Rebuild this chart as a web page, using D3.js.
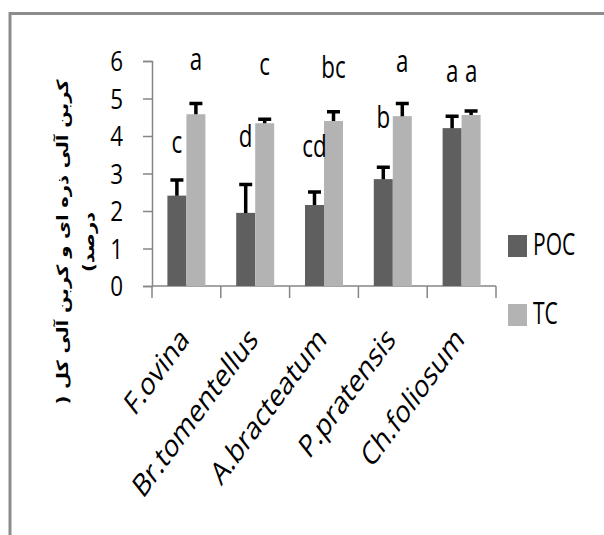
<!DOCTYPE html>
<html>
<head>
<meta charset="utf-8">
<script src="https://cdn.jsdelivr.net/npm/d3@7"></script>
<style>
    body { margin: 0; background: #fff; }
</style>
</head>
<body>
<div id="chart"></div>
<script>
// data
let species = ["F.ovina", "Br.tomentellus", "A.bracteatum", "P.pratensis", "Ch.foliosum"];
let series = ["POC", "TC"];
let poc = [2.41, 1.95, 2.16, 2.85, 4.21];
let pocErr = [0.42, 0.76, 0.35, 0.32, 0.32];
let tc = [4.58, 4.34, 4.40, 4.53, 4.56];
let tcErr = [0.29, 0.11, 0.25, 0.34, 0.11];
// significance letters and the height (in % units) where they sit
let pocLetters = ["c", "d", "cd", "b", "a"];
let pocLetterAt = [3.55, 3.71, 3.44, 4.21, 5.44];
let tcLetters = ["a", "c", "bc", "a", "a"];
let tcLetterAt = [5.76, 5.63, 5.55, 5.71, 5.44];
let yTicks = [0, 1, 2, 3, 4, 5, 6];
let yTitle = ["کربن آلی ذره ای و کربن آلی کل (", "درصد)"];

let width = 604, height = 535;
let colors = {POC: "#5f5f5f", TC: "#b3b3b3"};
let axisColor = "#868686";
let font = "'Open Sans', sans-serif";

let svg = d3.select("#chart").append("svg")
    .attr("width", width)
    .attr("height", height);

svg.append("rect").attr("width", width).attr("height", height).attr("fill", "#fff");

// outer frame (only top and left edges are in the picture)
svg.append("path")
    .attr("d", "M10,535V13.5H604")
    .attr("fill", "none")
    .attr("stroke", "#8c8c8c")
    .attr("stroke-width", 3);

let x0 = d3.scaleBand().domain(species).range([152, 496]);
let barW = 19;
let x1 = d3.scaleBand().domain(series)
    .range([(x0.bandwidth() - 2 * barW) / 2, (x0.bandwidth() + 2 * barW) / 2]);
let y = d3.scaleLinear().domain([0, 6]).range([286, 61]);

// text squeezed sideways like the stretched original
function label(g, x, yy, s, size, sx, anchor, extra) {
    return g.append("text")
        .attr("transform", "translate(" + x + "," + yy + ") scale(" + sx + ",1)" + (extra || ""))
        .attr("text-anchor", anchor)
        .attr("font-family", font)
        .attr("font-size", size)
        .attr("fill", "#000")
        .text(s);
}

// y axis
let yAxis = svg.append("g")
    .attr("transform", "translate(152,0)")
    .call(d3.axisLeft(y).tickValues(yTicks).tickSize(9).tickFormat(d3.format("d")));
yAxis.select(".domain").attr("stroke", axisColor).attr("stroke-width", 1.5);
yAxis.selectAll(".tick line").attr("stroke", axisColor).attr("stroke-width", 1.5);
yAxis.selectAll(".tick text").remove();
yTicks.forEach(function (t) {
    label(svg, 123, y(t) + 10, t, 28, 0.8, "end");
});

// x axis line with ticks on the category boundaries
let xAxis = svg.append("g");
xAxis.append("line")
    .attr("x1", x0.range()[0]).attr("x2", x0.range()[1])
    .attr("y1", y(0)).attr("y2", y(0))
    .attr("stroke", axisColor).attr("stroke-width", 1.5);
let bounds = species.map(function (d) { return x0(d); }).concat([x0.range()[1]]);
xAxis.selectAll(".xtick")
    .data(bounds)
    .enter()
    .append("line")
    .attr("class", "xtick")
    .attr("x1", function (d) { return d; })
    .attr("x2", function (d) { return d; })
    .attr("y1", y(0))
    .attr("y2", y(0) + 12)
    .attr("stroke", axisColor)
    .attr("stroke-width", 1.5);

species.forEach(function (d) {
    label(svg, x0(d) + x0.bandwidth() / 2 + 4, 341, d, 32, 0.76, "end", " rotate(-46)");
});

// bars
let rows = species.map(function (d, i) {
    return {
        name: d,
        items: [
            {key: "POC", value: poc[i], err: pocErr[i], letter: pocLetters[i], at: pocLetterAt[i]},
            {key: "TC", value: tc[i], err: tcErr[i], letter: tcLetters[i], at: tcLetterAt[i]}
        ]
    };
});

let groups = svg.selectAll(".grp")
    .data(rows)
    .enter()
    .append("g")
    .attr("class", "grp")
    .attr("transform", function (d) { return "translate(" + x0(d.name) + ",0)"; });

groups.selectAll(".bar")
    .data(function (d) { return d.items; })
    .enter()
    .append("rect")
    .attr("class", "bar")
    .attr("x", function (d) { return x1(d.key); })
    .attr("y", function (d) { return y(d.value); })
    .attr("width", barW)
    .attr("height", function (d) { return y(0) - y(d.value); })
    .attr("fill", function (d) { return colors[d.key]; });

// error bars (upper side only)
groups.selectAll(".err")
    .data(function (d) { return d.items; })
    .enter()
    .append("path")
    .attr("class", "err")
    .attr("d", function (d) {
        let cx = x1(d.key) + barW / 2;
        let top = y(d.value + d.err);
        return "M" + cx + "," + y(d.value) + "V" + top + "M" + (cx - 6.5) + "," + top + "H" + (cx + 6.5);
    })
    .attr("fill", "none")
    .attr("stroke", "#000")
    .attr("stroke-width", 3.5);

// letters
rows.forEach(function (r) {
    r.items.forEach(function (d) {
        label(svg, x0(r.name) + x1(d.key) + barW / 2, y(d.at), d.letter, 31, 0.72, "middle");
    });
});

// legend
let legend = svg.selectAll(".legend")
    .data(series)
    .enter()
    .append("g")
    .attr("class", "legend")
    .attr("transform", function (d, i) { return "translate(508," + (235 + i * 69) + ")"; });
legend.append("rect")
    .attr("width", 19)
    .attr("height", 22)
    .attr("fill", function (d) { return colors[d]; });
legend.each(function (d) {
    label(d3.select(this), 25, 20, d, 31, 0.68, "start");
});

// y axis title, rotated, two lines
yTitle.forEach(function (s, i) {
    svg.append("text")
        .attr("transform", "translate(" + (68 + i * 26) + ",242) scale(0.8,1) rotate(-90)")
        .attr("text-anchor", "middle")
        .attr("direction", "rtl")
        .attr("font-family", "'DejaVu Sans', sans-serif")
        .attr("font-weight", "bold")
        .attr("font-size", 19.5)
        .attr("fill", "#000")
        .text(s);
});
</script>
</body>
</html>
